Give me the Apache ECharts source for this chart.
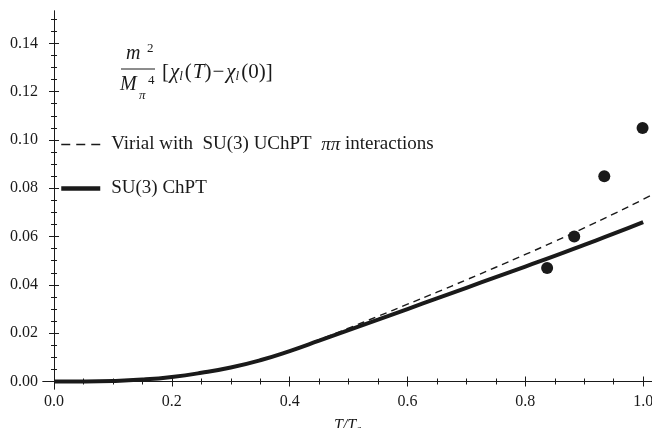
<!DOCTYPE html>
<html>
<head>
<meta charset="utf-8">
<script src="https://cdn.jsdelivr.net/npm/echarts@6/dist/echarts.min.js"></script>
<style>
  html, body { margin: 0; padding: 0; background: #fff; }
  #box1 { width: 652px; height: 428px; }
</style>
</head>
<body>
<div id="box1"></div>
<script>
// T/Tc samples
var tVals = [0, 0.05, 0.1, 0.15, 0.2, 0.25, 0.3, 0.35, 0.4, 0.45, 0.5,
             0.55, 0.6, 0.65, 0.7, 0.75, 0.8, 0.85, 0.9, 0.95, 1.0];
// SU(3) ChPT (solid)
var chptVals = [0, 0.00001, 0.0002, 0.0008, 0.0019, 0.0036, 0.0058, 0.0088, 0.0126, 0.0169, 0.0213,
                0.0256, 0.0300, 0.0344, 0.0388, 0.0432, 0.0476, 0.0520, 0.0566, 0.0612, 0.0660];
// Virial with SU(3) UChPT (dashed), runs off the right edge
var virialT = [0, 0.05, 0.1, 0.15, 0.2, 0.25, 0.3, 0.35, 0.4, 0.45, 0.5,
               0.55, 0.6, 0.65, 0.7, 0.75, 0.8, 0.85, 0.9, 0.95, 1.0, 1.02];
var virialVals = [0, 0.00001, 0.0002, 0.0008, 0.0019, 0.0036, 0.0058, 0.0088, 0.0128, 0.0173, 0.0221,
                  0.0270, 0.0320, 0.0370, 0.0421, 0.0473, 0.0526, 0.0580, 0.0636, 0.0694, 0.0754, 0.0779];
// lattice points
var latticeT = [0.837, 0.883, 0.934, 0.999];
var latticeVals = [0.047, 0.060, 0.085, 0.105];

var xMajor = [0, 0.2, 0.4, 0.6, 0.8, 1.0];
var xMinor = [0.05, 0.1, 0.15, 0.25, 0.3, 0.35, 0.45, 0.5, 0.55, 0.65, 0.7, 0.75, 0.85, 0.9, 0.95];
var yMajor = [0, 0.02, 0.04, 0.06, 0.08, 0.10, 0.12, 0.14];
var yMinor = [0.005, 0.01, 0.015, 0.025, 0.03, 0.035, 0.045, 0.05, 0.055, 0.065, 0.07, 0.075,
              0.085, 0.09, 0.095, 0.105, 0.11, 0.115, 0.125, 0.13, 0.135, 0.145, 0.15];

var XMIN = -0.0187, XMAX = 1.015;
var YMIN = -0.0031, YMAX = 0.1534;
var ink = '#1a1a1a';
var serif = '"Liberation Serif", "DejaVu Serif", serif';

function pairs(xs, ys) {
    return xs.map(function (x, i) { return [x, ys[i]]; });
}

function xAx(pos, ticks, len, labels) {
    return {
        type: 'value', position: pos, min: XMIN, max: XMAX,
        axisLine: { show: labels, lineStyle: { color: ink, width: 1 } },
        axisTick: { show: true, inside: true, length: len, customValues: ticks,
                    lineStyle: { color: ink, width: 1 } },
        axisLabel: { show: labels, customValues: ticks, margin: 5,
                     formatter: function (v) { return v.toFixed(1); },
                     fontFamily: serif, fontSize: 16, color: ink },
        splitLine: { show: false }
    };
}
function yAx(pos, ticks, len, labels) {
    return {
        type: 'value', position: pos, min: YMIN, max: YMAX,
        axisLine: { show: labels, lineStyle: { color: ink, width: 1 } },
        axisTick: { show: true, inside: true, length: len, customValues: ticks,
                    lineStyle: { color: ink, width: 1 } },
        axisLabel: { show: labels, customValues: ticks, margin: 5,
                     formatter: function (v) { return v.toFixed(2); },
                     fontFamily: serif, fontSize: 16, color: ink },
        splitLine: { show: false }
    };
}

var xBottom = xAx('bottom', xMajor, 5, true);
xBottom.name = 'T/T{s|c}';
xBottom.nameLocation = 'middle';
xBottom.nameGap = 27;
xBottom.nameTextStyle = { fontFamily: serif, fontStyle: 'italic', fontSize: 16, color: ink,
    rich: { s: { fontFamily: serif, fontStyle: 'italic', fontSize: 11, color: ink, padding: [8, 0, 0, 0] } } };
var xTop = xAx('top', xMajor, 5, true);
xTop.axisLabel.show = false;

var yLeft = yAx('left', yMajor, 5, true);
var yRight = yAx('right', yMajor, 5, true);
yRight.axisLabel.show = false;

var dom = document.getElementById('box1');
var myChart = echarts.init(dom, null, { renderer: 'canvas' });

var option = {
    backgroundColor: '#fff',
    animation: false,
    grid: { left: 43, top: 11, right: 0, bottom: 39, containLabel: false, outerBoundsMode: 'none' },
    xAxis: [xBottom, xAx('bottom', xMinor, 3, false), xTop, xAx('top', xMinor, 3, false)],
    yAxis: [yLeft, yAx('left', yMinor, 3, false), yRight, yAx('right', yMinor, 3, false)],
    legend: {
        orient: 'vertical', left: 59, top: 135, padding: 0,
        itemWidth: 39, itemHeight: 14, itemGap: 25,
        data: [
            { name: 'virial', lineStyle: { color: ink, width: 1.5, type: [9, 6] } },
            { name: 'chpt', lineStyle: { color: ink, width: 4.5 } }
        ],
        itemStyle: { opacity: 0 },
        formatter: function (name) {
            return name === 'virial'
                ? 'Virial with  SU(3) UChPT  {i|ππ} interactions'
                : 'SU(3) ChPT';
        },
        textStyle: { fontFamily: serif, fontSize: 19, color: ink, padding: [0, 0, 0, 6],
                     rich: { i: { fontFamily: serif, fontStyle: 'italic', fontSize: 19, color: ink } } }
    },
    series: [
        {
            name: 'virial', type: 'line', data: pairs(virialT, virialVals),
            smooth: true, symbol: 'none', clip: true,
            itemStyle: { color: ink },
            lineStyle: { color: ink, width: 1.4, type: [7, 5] }
        },
        {
            name: 'chpt', type: 'line', data: pairs(tVals, chptVals),
            smooth: true, symbol: 'none',
            itemStyle: { color: ink },
            lineStyle: { color: ink, width: 4 }
        },
        {
            name: 'lattice', type: 'scatter', data: pairs(latticeT, latticeVals),
            symbol: 'circle', symbolSize: 12,
            itemStyle: { color: ink, opacity: 1 }
        }
    ],
    graphic: [
        { type: 'text', left: 126, top: 44, style: { text: 'm', font: 'italic 20px ' + serif, fill: ink } },
        { type: 'text', left: 147, top: 42, style: { text: '2', font: '13px ' + serif, fill: ink } },
        { type: 'line', shape: { x1: 121, y1: 69, x2: 155, y2: 69 }, style: { stroke: ink, lineWidth: 1 } },
        { type: 'text', left: 120, top: 75, style: { text: 'M', font: 'italic 20px ' + serif, fill: ink } },
        { type: 'text', left: 139, top: 89, style: { text: 'π', font: 'italic 13px ' + serif, fill: ink } },
        { type: 'text', left: 148, top: 74, style: { text: '4', font: '13px ' + serif, fill: ink } },
        {
            type: 'text', left: 162, top: 62,
            style: {
                text: '[{i|χ}{s|l}({i|T}){o|−}{i|χ}{s|l}(0)]',
                font: '21px ' + serif, fill: ink,
                rich: {
                    i: { fontFamily: serif, fontStyle: 'italic', fontSize: 21, fill: ink, padding: [0, 0, 0, 1] },
                    s: { fontFamily: serif, fontStyle: 'italic', fontSize: 13, fill: ink, padding: [8, 2, 0, 0] },
                    o: { fontFamily: serif, fontSize: 21, fill: ink, padding: [0, 1, 0, 1] }
                }
            }
        }
    ]
};

if (option && typeof option === 'object') {
    myChart.setOption(option, true);
}
</script>
</body>
</html>
